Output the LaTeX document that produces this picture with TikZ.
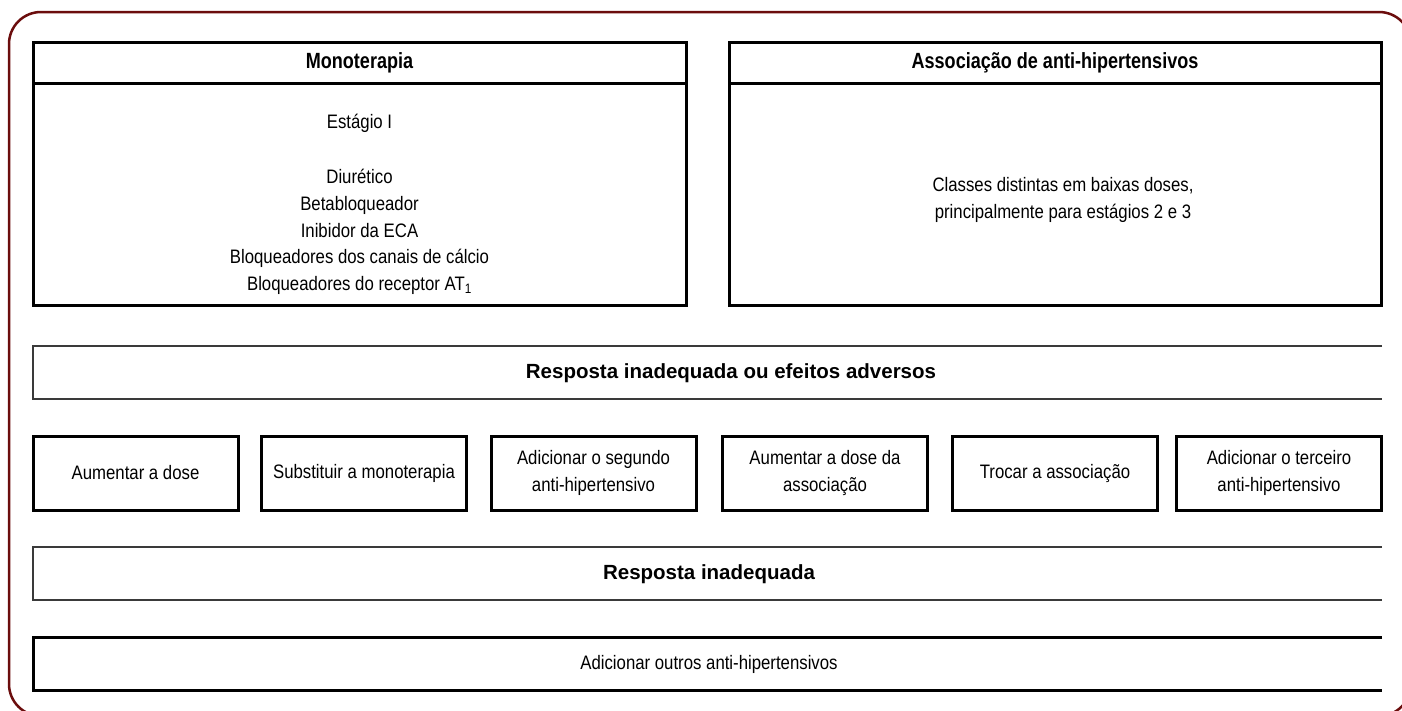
\documentclass[tikz,border=0pt]{standalone}
\usepackage{fontspec}
\newfontfamily\bodyf[FakeStretch=0.86]{Liberation Sans}
\newfontfamily\headf[FakeStretch=0.82]{Liberation Sans Bold}
\newfontfamily\respf{Liberation Sans Bold}
\definecolor{framered}{HTML}{6B0D0D}
\definecolor{thinline}{HTML}{3A3A3A}
\begin{document}
\begin{tikzpicture}[x=1pt,y=-1pt,
  thick box/.style={draw=black,line width=3pt},
  thin open/.style={draw=thinline,line width=2pt},
  bodytext/.style={font=\bodyf\fontsize{19.5}{26.8}\selectfont,align=center,inner sep=0pt},
  headtext/.style={font=\headf\fontsize{22}{26}\selectfont,inner sep=0pt},
  resptext/.style={font=\respf\fontsize{20.5}{26}\selectfont,inner sep=0pt},
  smallbox/.style={draw=black,line width=3pt,minimum width=205pt,minimum height=74pt,
    font=\bodyf\fontsize{19.5}{27}\selectfont,align=center,inner sep=0pt}]
\useasboundingbox (0,0) rectangle (1402,710);
% outer frame
\draw[framered,line width=2.5pt,rounded corners=32pt] (9,12) rectangle (1411,716);
% Monoterapia
\draw[thick box] (33,42) rectangle (686,305);
\draw[thick box] (33,83) -- (686,83);
\node[headtext] (mono) at (359.5,63) {Monoterapia};
\node[bodytext] (est) at (359.5,123) {Estágio I};
\node[bodytext,anchor=north] (list) at (359.5,169) {Diurético\\Betabloqueador\\Inibidor da ECA\\Bloqueadores dos canais de cálcio\\Bloqueadores do receptor AT\textsubscript{1}};
% Associação
\draw[thick box] (729,42) rectangle (1381,305);
\draw[thick box] (729,83) -- (1381,83);
\node[headtext] (assoc) at (1055,63) {Associação de anti-hipertensivos};
\node[bodytext] (classes) at (1063,200) {Classes distintas em baixas doses,\\principalmente para estágios 2 e 3};
% Resposta inadequada ou efeitos adversos
\draw[thin open] (1382,346) -- (33,346) -- (33,399) -- (1382,399);
\node[resptext] (resp1) at (731,373) {Resposta inadequada ou efeitos adversos};
% small boxes
\node[smallbox] (b1) at (135.5,473) {Aumentar a dose};
\node[smallbox] (b2) at (364,473) {Substituir a monoterapia};
\node[smallbox] (b3) at (593.5,473) {Adicionar o segundo\\anti-hipertensivo};
\node[smallbox] (b4) at (825,473) {Aumentar a dose da\\associação};
\node[smallbox] (b5) at (1055,473) {Trocar a associação};
\node[smallbox] (b6) at (1279,473) {Adicionar o terceiro\\anti-hipertensivo};
% Resposta inadequada
\draw[thin open] (1382,547) -- (33,547) -- (33,600) -- (1382,600);
\node[resptext] (resp2) at (709,574) {Resposta inadequada};
% Adicionar outros
\draw[thick box] (1382,637) -- (33,637) -- (33,690) -- (1382,690);
\node[bodytext] (outros) at (709,664) {Adicionar outros anti-hipertensivos};
\end{tikzpicture}
\end{document}
